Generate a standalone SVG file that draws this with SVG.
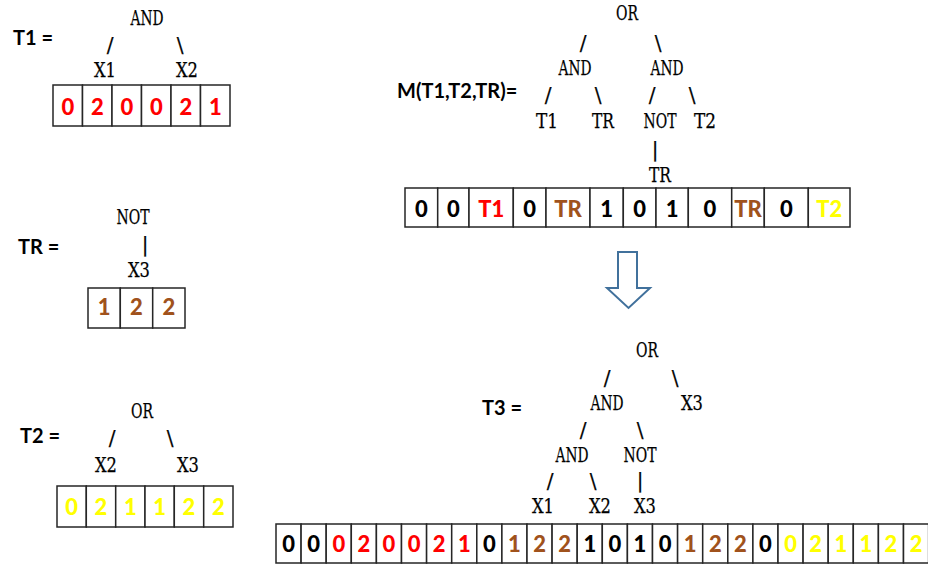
<svg xmlns="http://www.w3.org/2000/svg" width="928" height="564" viewBox="0 0 928 564">
<style>
.lbl{font-family:Lato,"Liberation Sans",sans-serif;font-weight:bold;font-size:20px;fill:#000}
.m{font-family:"DejaVu Serif",serif;font-size:20px;text-anchor:middle;fill:#000;stroke:#000;stroke-width:0.25}
.d{font-family:Lato,"Liberation Sans",sans-serif;font-weight:900;font-size:22px;text-anchor:middle}
.c{fill:#fff;stroke:#262626;stroke-width:1.5}
.k{fill:#000}.r{fill:#ff0000}.b{fill:#a0521c}.y{fill:#ffff00}
</style>
<rect width="928" height="564" fill="#fff"/>

<!-- T1 -->
<g id="t1">
<text class="lbl" x="13" y="45">T1 =</text>
<g id="t1-and"><text class="m" x="147" y="25" textLength="33" lengthAdjust="spacingAndGlyphs">AND</text></g>
<g id="t1-x1"><text class="m" x="105" y="77" textLength="22" lengthAdjust="spacingAndGlyphs">X1</text></g>
<g id="t1-x2"><text class="m" x="187" y="77" textLength="22" lengthAdjust="spacingAndGlyphs">X2</text></g>
<g id="t1-array">
<rect class="c" x="53" y="85" width="29.5" height="41"/><rect class="c" x="82.5" y="85" width="29.5" height="41"/><rect class="c" x="112" y="85" width="29.5" height="41"/><rect class="c" x="141.5" y="85" width="29.5" height="41"/><rect class="c" x="171" y="85" width="29.5" height="41"/><rect class="c" x="200.5" y="85" width="29.5" height="41"/>
<text class="d r" x="67.8" y="115">0</text><text class="d r" x="97.3" y="115">2</text><text class="d r" x="126.8" y="115">0</text><text class="d r" x="156.3" y="115">0</text><text class="d r" x="185.8" y="115">2</text><text class="d r" x="215.3" y="115">1</text>
</g>
</g>

<!-- TR -->
<g id="tr">
<text class="lbl" x="18" y="254">TR =</text>
<g id="tr-not"><text class="m" x="133" y="224" textLength="33" lengthAdjust="spacingAndGlyphs">NOT</text></g>
<g id="tr-x3"><text class="m" x="139" y="277" textLength="22" lengthAdjust="spacingAndGlyphs">X3</text></g>
<g id="tr-array">
<rect class="c" x="88" y="288" width="32.3" height="40"/><rect class="c" x="120.3" y="288" width="32.4" height="40"/><rect class="c" x="152.7" y="288" width="32.3" height="40"/>
<text class="d b" x="104.2" y="315">1</text><text class="d b" x="136.5" y="315">2</text><text class="d b" x="168.8" y="315">2</text>
</g>
</g>

<!-- T2 -->
<g id="t2">
<text class="lbl" x="20" y="443">T2 =</text>
<g id="t2-or"><text class="m" x="142" y="418" textLength="22" lengthAdjust="spacingAndGlyphs">OR</text></g>
<g id="t2-x2"><text class="m" x="106" y="472" textLength="22" lengthAdjust="spacingAndGlyphs">X2</text></g>
<g id="t2-x3"><text class="m" x="188" y="472" textLength="22" lengthAdjust="spacingAndGlyphs">X3</text></g>
<g id="t2-array">
<rect class="c" x="57" y="486" width="29.3" height="41"/><rect class="c" x="86.3" y="486" width="29.4" height="41"/><rect class="c" x="115.7" y="486" width="29.3" height="41"/><rect class="c" x="145" y="486" width="29.3" height="41"/><rect class="c" x="174.3" y="486" width="29.4" height="41"/><rect class="c" x="203.7" y="486" width="29.3" height="41"/>
<text class="d y" x="71.7" y="515">0</text><text class="d y" x="101" y="515">2</text><text class="d y" x="130.3" y="515">1</text><text class="d y" x="159.7" y="515">1</text><text class="d y" x="189" y="515">2</text><text class="d y" x="218.3" y="515">2</text>
</g>
</g>

<!-- M -->
<g id="m">
<text class="lbl" x="397" y="98">M(T1,T2,TR)=</text>
<g id="m-or"><text class="m" x="627" y="20" textLength="22" lengthAdjust="spacingAndGlyphs">OR</text></g>
<g id="m-and1"><text class="m" x="575" y="75" textLength="33" lengthAdjust="spacingAndGlyphs">AND</text></g>
<g id="m-and2"><text class="m" x="667" y="75" textLength="33" lengthAdjust="spacingAndGlyphs">AND</text></g>
<g id="m-t1"><text class="m" x="547" y="128" textLength="22" lengthAdjust="spacingAndGlyphs">T1</text></g>
<g id="m-tr"><text class="m" x="603" y="128" textLength="22" lengthAdjust="spacingAndGlyphs">TR</text></g>
<g id="m-not"><text class="m" x="660" y="128" textLength="33" lengthAdjust="spacingAndGlyphs">NOT</text></g>
<g id="m-t2"><text class="m" x="705" y="128" textLength="22" lengthAdjust="spacingAndGlyphs">T2</text></g>
<g id="m-tr2"><text class="m" x="660" y="182" textLength="22" lengthAdjust="spacingAndGlyphs">TR</text></g>
<g id="m-array">
<rect class="c" x="405" y="188" width="32.7" height="39"/><rect class="c" x="437.7" y="188" width="31.3" height="39"/><rect class="c" x="469" y="188" width="44.3" height="39"/><rect class="c" x="513.3" y="188" width="32.7" height="39"/><rect class="c" x="546" y="188" width="44" height="39"/><rect class="c" x="590" y="188" width="33.3" height="39"/><rect class="c" x="623.3" y="188" width="32.7" height="39"/><rect class="c" x="656" y="188" width="32.3" height="39"/><rect class="c" x="688.3" y="188" width="43.4" height="39"/><rect class="c" x="731.7" y="188" width="32.6" height="39"/><rect class="c" x="764.3" y="188" width="44" height="39"/><rect class="c" x="808.3" y="188" width="41.7" height="39"/>
<text class="d k" x="421.3" y="217">0</text><text class="d k" x="453.3" y="217">0</text><text class="d r" x="491.2" y="217">T1</text><text class="d k" x="529.7" y="217">0</text><text class="d b" x="568" y="217">TR</text><text class="d k" x="606.7" y="217">1</text><text class="d k" x="639.7" y="217">0</text><text class="d k" x="672.2" y="217">1</text><text class="d k" x="710" y="217">0</text><text class="d b" x="748" y="217">TR</text><text class="d k" x="786.3" y="217">0</text><text class="d y" x="829.2" y="217">T2</text>
</g>
</g>

<!-- arrow -->
<g id="arrow">
<polygon points="618,252 637,252 637,288 650,288 628.5,308 607,288 618,288" fill="#fff" stroke="#41719c" stroke-width="2" stroke-linejoin="miter"/>
</g>

<!-- T3 -->
<g id="t3">
<text class="lbl" x="482" y="415">T3 =</text>
<g id="t3-or"><text class="m" x="647" y="357" textLength="22" lengthAdjust="spacingAndGlyphs">OR</text></g>
<g id="t3-and1"><text class="m" x="607" y="410" textLength="33" lengthAdjust="spacingAndGlyphs">AND</text></g>
<g id="t3-x3a"><text class="m" x="692" y="410" textLength="22" lengthAdjust="spacingAndGlyphs">X3</text></g>
<g id="t3-and2"><text class="m" x="572" y="462" textLength="33" lengthAdjust="spacingAndGlyphs">AND</text></g>
<g id="t3-not"><text class="m" x="640" y="462" textLength="33" lengthAdjust="spacingAndGlyphs">NOT</text></g>
<g id="t3-x1"><text class="m" x="543" y="513" textLength="22" lengthAdjust="spacingAndGlyphs">X1</text></g>
<g id="t3-x2"><text class="m" x="600" y="513" textLength="22" lengthAdjust="spacingAndGlyphs">X2</text></g>
<g id="t3-x3b"><text class="m" x="645" y="513" textLength="22" lengthAdjust="spacingAndGlyphs">X3</text></g>
<g id="t3-array">
<rect class="c" x="276" y="524" width="25.1" height="39"/><rect class="c" x="301.1" y="524" width="25.1" height="39"/><rect class="c" x="326.2" y="524" width="25.1" height="39"/><rect class="c" x="351.3" y="524" width="25.1" height="39"/><rect class="c" x="376.4" y="524" width="25.1" height="39"/><rect class="c" x="401.5" y="524" width="25.1" height="39"/><rect class="c" x="426.6" y="524" width="25.1" height="39"/><rect class="c" x="451.7" y="524" width="25.1" height="39"/><rect class="c" x="476.8" y="524" width="25.1" height="39"/><rect class="c" x="501.9" y="524" width="25.1" height="39"/><rect class="c" x="527" y="524" width="25.1" height="39"/><rect class="c" x="552.1" y="524" width="25.1" height="39"/><rect class="c" x="577.2" y="524" width="25.1" height="39"/><rect class="c" x="602.3" y="524" width="25.1" height="39"/><rect class="c" x="627.4" y="524" width="25.1" height="39"/><rect class="c" x="652.5" y="524" width="25.1" height="39"/><rect class="c" x="677.6" y="524" width="25.1" height="39"/><rect class="c" x="702.7" y="524" width="25.1" height="39"/><rect class="c" x="727.8" y="524" width="25.1" height="39"/><rect class="c" x="752.9" y="524" width="25.1" height="39"/><rect class="c" x="778" y="524" width="25.1" height="39"/><rect class="c" x="803.1" y="524" width="25.1" height="39"/><rect class="c" x="828.2" y="524" width="25.1" height="39"/><rect class="c" x="853.3" y="524" width="25.1" height="39"/><rect class="c" x="878.4" y="524" width="25.1" height="39"/><rect class="c" x="903.5" y="524" width="25.1" height="39"/>
<text class="d k" x="288.6" y="552">0</text><text class="d k" x="313.7" y="552">0</text><text class="d r" x="338.8" y="552">0</text><text class="d r" x="363.9" y="552">2</text><text class="d r" x="389" y="552">0</text><text class="d r" x="414.1" y="552">0</text><text class="d r" x="439.2" y="552">2</text><text class="d r" x="464.3" y="552">1</text><text class="d k" x="489.4" y="552">0</text><text class="d b" x="514.5" y="552">1</text><text class="d b" x="539.6" y="552">2</text><text class="d b" x="564.7" y="552">2</text><text class="d k" x="589.8" y="552">1</text><text class="d k" x="614.9" y="552">0</text><text class="d k" x="640" y="552">1</text><text class="d k" x="665.1" y="552">0</text><text class="d b" x="690.2" y="552">1</text><text class="d b" x="715.3" y="552">2</text><text class="d b" x="740.4" y="552">2</text><text class="d k" x="765.5" y="552">0</text><text class="d y" x="790.6" y="552">0</text><text class="d y" x="815.7" y="552">2</text><text class="d y" x="840.8" y="552">1</text><text class="d y" x="865.9" y="552">1</text><text class="d y" x="891" y="552">2</text><text class="d y" x="916.1" y="552">2</text>
</g>
</g>

<!-- connectors (tree branch characters) -->
<g id="connectors">
<text class="m" x="110" y="52">/</text><text class="m" x="180" y="52">\</text>
<text class="m" x="145" y="251">|</text>
<text class="m" x="112" y="445">/</text><text class="m" x="170" y="445">\</text>
<text class="m" x="583" y="50">/</text><text class="m" x="658" y="50">\</text>
<text class="m" x="548" y="102">/</text><text class="m" x="598" y="102">\</text><text class="m" x="652" y="102">/</text><text class="m" x="692" y="102">\</text>
<text class="m" x="655" y="156">|</text>
<text class="m" x="607" y="385">/</text><text class="m" x="675" y="385">\</text>
<text class="m" x="583" y="437">/</text><text class="m" x="640" y="437">\</text>
<text class="m" x="550" y="488">/</text><text class="m" x="593" y="488">\</text><text class="m" x="640" y="487">|</text>
</g>
</svg>
